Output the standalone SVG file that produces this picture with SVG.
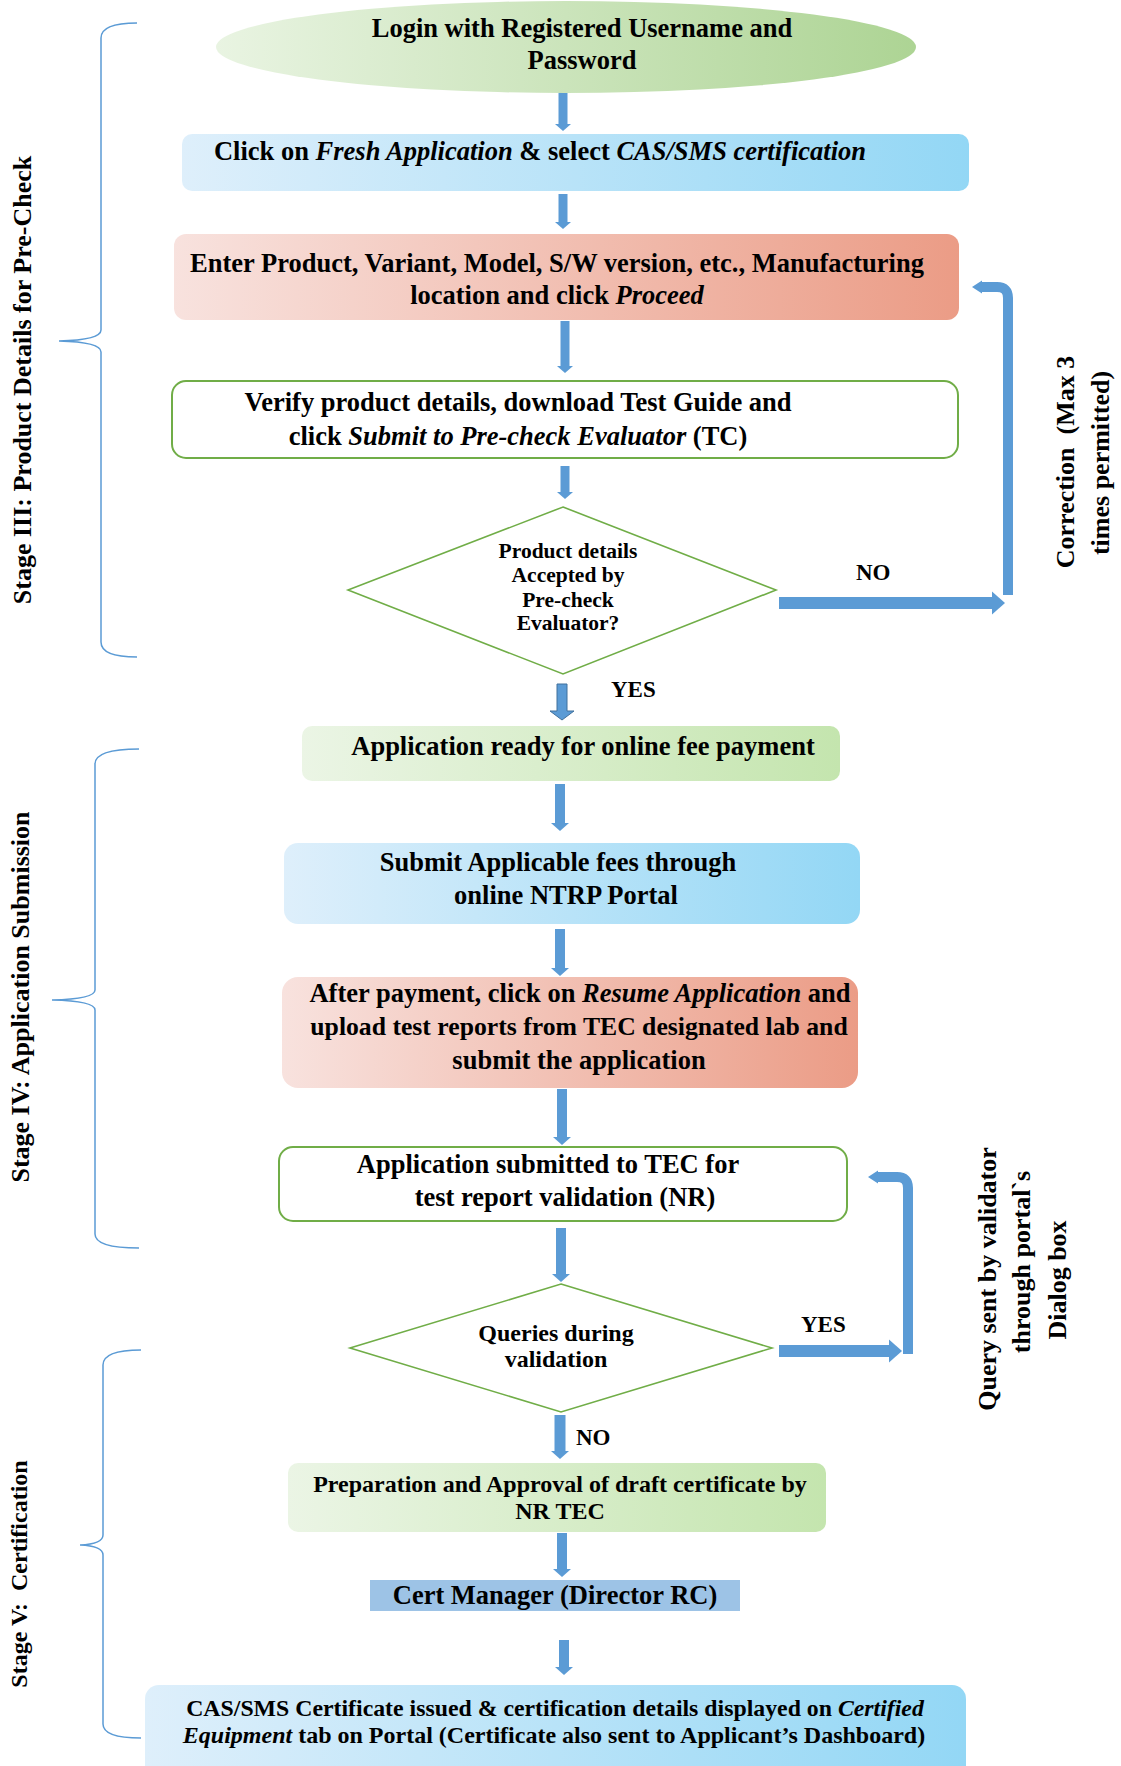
<svg xmlns="http://www.w3.org/2000/svg" width="1121" height="1766" viewBox="0 0 1121 1766">
<defs>
<linearGradient id="gGreen" x1="0" y1="0" x2="1" y2="0"><stop offset="0" stop-color="#E9F4E2"/><stop offset="1" stop-color="#ADD494"/></linearGradient>
<linearGradient id="gGreen2" x1="0" y1="0" x2="1" y2="0"><stop offset="0" stop-color="#EBF5E5"/><stop offset="1" stop-color="#C4E5AE"/></linearGradient>
<linearGradient id="gBlue" x1="0" y1="0" x2="1" y2="0"><stop offset="0" stop-color="#DEEFFB"/><stop offset="1" stop-color="#93D7F5"/></linearGradient>
<linearGradient id="gRed" x1="0" y1="0" x2="1" y2="0"><stop offset="0" stop-color="#F8E2DE"/><stop offset="1" stop-color="#EB9C86"/></linearGradient>
<marker id="hs" markerUnits="userSpaceOnUse" viewBox="0 -8 8 16" refX="0" refY="0" markerWidth="8" markerHeight="16" orient="auto"><path d="M0,-8 L7,0 L0,8 Z" fill="#5B9BD5"/></marker>
<marker id="hm" markerUnits="userSpaceOnUse" viewBox="0 -9 9 18" refX="0" refY="0" markerWidth="9" markerHeight="18" orient="auto"><path d="M0,-9 L8,0 L0,9 Z" fill="#5B9BD5"/></marker>
<marker id="hb" markerUnits="userSpaceOnUse" viewBox="0 -12 13 24" refX="0" refY="0" markerWidth="13" markerHeight="24" orient="auto"><path d="M0,-11.5 L13,0 L0,11.5 Z" fill="#5B9BD5"/></marker>
<marker id="hc" markerUnits="userSpaceOnUse" viewBox="0 -7 11 14" refX="0" refY="0" markerWidth="11" markerHeight="14" orient="auto"><path d="M0,-6.5 L10,0 L0,6.5 Z" fill="#5B9BD5"/></marker>
<style>
text{font-family:"Liberation Serif","Times New Roman",serif;font-weight:bold;fill:#000}
.t{font-size:26.5px;text-anchor:middle}
.t24{font-size:24px;text-anchor:middle}
.d1{font-size:21.5px;text-anchor:middle}
.lab{font-size:23px}
.side{font-size:26px;text-anchor:middle}
.it{font-style:italic}
.ln{stroke:#5B9BD5;fill:none}
.s9{stroke-width:9}
.s11{stroke-width:11}
.s12{stroke-width:12}
.s10{stroke-width:10}
.br{stroke:#5B9BD5;stroke-width:1.5;fill:none}
.gb{fill:#fff;stroke:#70AD47;stroke-width:2}
.dm{fill:#fff;stroke:#70AD47;stroke-width:1.6}
</style>
</defs>
<rect width="1121" height="1766" fill="#fff"/>

<g id="brackets">
<path class="br" d="M137,23 Q101,23 101,38 V330 Q101,340 59,341 Q101,342 101,352 V642 Q101,657 137,657"/>
<path class="br" d="M139,749 Q95,749 95,764 V990 Q95,999 52,1000 Q95,1001 95,1010 V1234 Q95,1248 139,1248"/>
<path class="br" d="M141,1350 Q103,1350 103,1365 V1535 Q103,1544 80,1545 Q103,1546 103,1555 V1724 Q103,1738 141,1738"/>
</g>

<g id="side-labels">
<text class="side" transform="translate(31,380) rotate(-90)">Stage III: Product Details for Pre-Check</text>
<text class="side" transform="translate(29,997) rotate(-90)">Stage IV: Application Submission</text>
<text class="side" style="font-size:24px" transform="translate(27,1574) rotate(-90)" xml:space="preserve">Stage V:  Certification</text>
<text class="side" transform="translate(1074,462) rotate(-90)" xml:space="preserve">Correction  (Max 3</text>
<text class="side" transform="translate(1109,463) rotate(-90)">times permitted)</text>
<text class="side" transform="translate(996,1279) rotate(-90)">Query sent by validator</text>
<text class="side" transform="translate(1030,1262) rotate(-90)">through portal`s</text>
<text class="side" transform="translate(1066,1280) rotate(-90)">Dialog box</text>
</g>

<g id="connectors">
<line class="ln s9" x1="563" y1="92" x2="563" y2="124" marker-end="url(#hs)"/>
<line class="ln s9" x1="563" y1="194" x2="563" y2="222" marker-end="url(#hs)"/>
<line class="ln s9" x1="565" y1="321" x2="565" y2="366" marker-end="url(#hs)"/>
<line class="ln s9" x1="565" y1="466" x2="565" y2="492" marker-end="url(#hs)"/>
<path d="M557,684 H567 V711 H574 L562,720 L550,711 H557 Z" fill="#5B9BD5" stroke="#41719C" stroke-width="1"/>
<line class="ln s10" x1="560" y1="784" x2="560" y2="823" marker-end="url(#hm)"/>
<line class="ln s10" x1="560" y1="929" x2="560" y2="968" marker-end="url(#hm)"/>
<line class="ln s10" x1="562" y1="1089" x2="562" y2="1137" marker-end="url(#hm)"/>
<line class="ln s10" x1="561" y1="1228" x2="561" y2="1274" marker-end="url(#hm)"/>
<line class="ln s11" x1="560" y1="1415" x2="560" y2="1451" marker-end="url(#hm)"/>
<line class="ln s10" x1="562" y1="1533" x2="562" y2="1569" marker-end="url(#hm)"/>
<line class="ln s10" x1="564" y1="1640" x2="564" y2="1667" marker-end="url(#hm)"/>
<line class="ln s12" x1="779" y1="603" x2="992" y2="603" marker-end="url(#hb)"/>
<path class="ln s10" d="M1008,595 V298 Q1008,287 997,287 H982" marker-end="url(#hc)"/>
<line class="ln s12" x1="779" y1="1351" x2="889" y2="1351" marker-end="url(#hb)"/>
<path class="ln s10" d="M908,1354 V1188 Q908,1177 897,1177 H878" marker-end="url(#hc)"/>
<text class="lab" x="856" y="580">NO</text>
<text class="lab" x="611" y="697">YES</text>
<text class="lab" x="801" y="1332">YES</text>
<text class="lab" x="576" y="1445">NO</text>
</g>

<g id="n-login">
<ellipse cx="566" cy="47" rx="350" ry="46" fill="url(#gGreen)"/>
<text class="t" x="582" y="37">Login with Registered Username and</text>
<text class="t" x="582" y="69">Password</text>
</g>

<g id="n-fresh">
<rect x="182" y="134" width="787" height="57" rx="10" fill="url(#gBlue)"/>
<text class="t" x="540" y="160">Click on <tspan class="it">Fresh Application</tspan> &amp; select <tspan class="it">CAS/SMS certification</tspan></text>
</g>

<g id="n-enter">
<rect x="174" y="234" width="785" height="86" rx="12" fill="url(#gRed)"/>
<text class="t" x="557" y="272">Enter Product, Variant, Model, S/W version, etc., Manufacturing</text>
<text class="t" x="557" y="304">location and click <tspan class="it">Proceed</tspan></text>
</g>

<g id="n-verify">
<rect class="gb" x="172" y="381" width="786" height="77" rx="14"/>
<text class="t" x="518" y="411">Verify product details, download Test Guide and</text>
<text class="t" x="518" y="445">click <tspan class="it">Submit to Pre-check Evaluator</tspan> (TC)</text>
</g>

<g id="n-accepted">
<polygon class="dm" points="563,507 776,590 563,674 348,590"/>
<text class="d1" x="568" y="558">Product details</text>
<text class="d1" x="568" y="582">Accepted by</text>
<text class="d1" x="568" y="607">Pre-check</text>
<text class="d1" x="568" y="630">Evaluator?</text>
</g>

<g id="n-ready">
<rect x="302" y="726" width="538" height="55" rx="10" fill="url(#gGreen2)"/>
<text class="t" x="583" y="755">Application ready for online fee payment</text>
</g>

<g id="n-fees">
<rect x="284" y="843" width="576" height="81" rx="14" fill="url(#gBlue)"/>
<text class="t" x="558" y="871">Submit Applicable fees through</text>
<text class="t" x="566" y="904">online NTRP Portal</text>
</g>

<g id="n-resume">
<rect x="282" y="977" width="576" height="111" rx="16" fill="url(#gRed)"/>
<text class="t" x="580" y="1002">After payment, click on <tspan class="it">Resume Application</tspan> and</text>
<text class="t" x="579" y="1035" style="font-size:25.7px">upload test reports from TEC designated lab and</text>
<text class="t" x="579" y="1069">submit the application</text>
</g>

<g id="n-submitted">
<rect class="gb" x="279" y="1147" width="568" height="74" rx="14"/>
<text class="t" x="548" y="1173">Application submitted to TEC for</text>
<text class="t" x="565" y="1206">test report validation (NR)</text>
</g>

<g id="n-queries">
<polygon class="dm" points="561,1284 772,1348 561,1412 350,1348"/>
<text class="t24" x="556" y="1341">Queries during</text>
<text class="t24" x="556" y="1367">validation</text>
</g>

<g id="n-draft">
<rect x="288" y="1463" width="538" height="69" rx="10" fill="url(#gGreen2)"/>
<text class="t24" x="560" y="1492">Preparation and Approval of draft certificate by</text>
<text class="t24" x="560" y="1519">NR TEC</text>
</g>

<g id="n-certmgr">
<rect x="370" y="1580" width="370" height="31" fill="#9DC3E6"/>
<text class="t" x="555" y="1604">Cert Manager (Director RC)</text>
</g>

<g id="n-issued">
<rect x="145" y="1685" width="821" height="95" rx="14" fill="url(#gBlue)"/>
<text class="t24" x="555" y="1716" style="font-size:23.8px">CAS/SMS Certificate issued &amp; certification details displayed on <tspan class="it">Certified</tspan></text>
<text class="t24" x="554" y="1743"><tspan class="it">Equipment</tspan> tab on Portal (Certificate also sent to Applicant’s Dashboard)</text>
</g>
</svg>
